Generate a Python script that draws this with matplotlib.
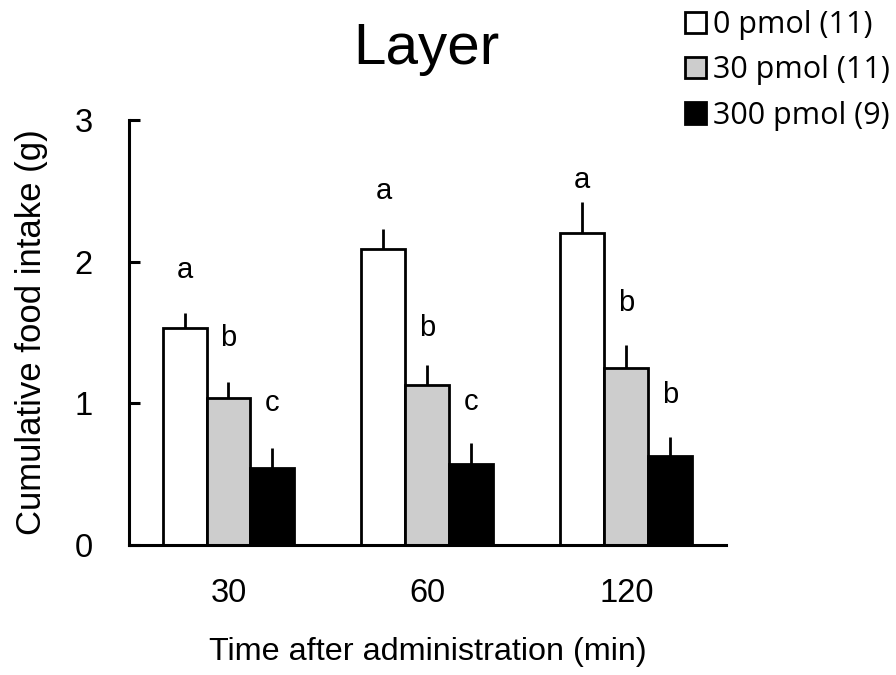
import matplotlib
matplotlib.use('Agg')
import matplotlib.pyplot as plt
import numpy as np
from matplotlib.patches import Patch

plt.rcParams['font.family'] = ['Liberation Sans', 'DejaVu Sans']

# 数据
times = ['30', '60', '120']
doses = ['0 pmol (11)', '30 pmol (11)', '300 pmol (9)']
colors = ['white', '#cdcdcd', 'black']
mean_0 = [1.53, 2.09, 2.20]
mean_30 = [1.04, 1.13, 1.25]
mean_300 = [0.54, 0.57, 0.63]
sem_0 = [0.11, 0.14, 0.22]
sem_30 = [0.11, 0.14, 0.16]
sem_300 = [0.14, 0.15, 0.13]
# 显著性字母及其高度
letters_0 = ['a', 'a', 'a']
letters_30 = ['b', 'b', 'b']
letters_300 = ['c', 'c', 'b']
letter_y_0 = [1.94, 2.50, 2.58]
letter_y_30 = [1.46, 1.53, 1.71]
letter_y_300 = [1.00, 1.01, 1.06]

means = [mean_0, mean_30, mean_300]
sems = [sem_0, sem_30, sem_300]
letters = [letters_0, letters_30, letters_300]
letter_ys = [letter_y_0, letter_y_30, letter_y_300]

fig = plt.figure(figsize=(8.96, 6.75), dpi=100)
ax = fig.add_axes([0.144, 0.193, 0.666, 0.629])

x = np.arange(len(times))
w = 0.221
for i in range(3):
    pos = x + (i - 1) * w
    ax.bar(pos, means[i], width=w, color=colors[i], edgecolor='black',
           linewidth=2.0, zorder=2)
    ax.errorbar(pos, means[i], yerr=[np.zeros(3), sems[i]], fmt='none',
                ecolor='black', elinewidth=2.0, capsize=0, zorder=1)
    for j in range(3):
        ax.text(pos[j], letter_ys[i][j], letters[i][j], ha='center',
                va='center', fontsize=21)

ax.set_xlim(-0.5, 2.5)
ax.set_ylim(0, 3)
ax.set_yticks([0, 1, 2, 3])
ax.set_xticks(x)
ax.set_xticklabels(times)
ax.tick_params(axis='y', direction='in', length=8, width=2.2, labelsize=23.5, pad=26)
ax.tick_params(axis='x', length=0, labelsize=23.5, pad=24)
for s in ['top', 'right']:
    ax.spines[s].set_visible(False)
for s in ['left', 'bottom']:
    ax.spines[s].set_linewidth(2.2)

ax.set_xlabel('Time after administration (min)', fontsize=23.3, labelpad=20)
ax.set_ylabel('Cumulative food intake (g)', fontsize=25, labelpad=19)
fig.text(0.476, 0.905, 'Layer', ha='center', va='baseline', fontsize=42)

handles = [Patch(facecolor=c, edgecolor='black', linewidth=2.0) for c in colors]
fig.legend(handles, doses, loc='upper left', bbox_to_anchor=(0.7645, 0.985),
           frameon=False, prop={'family': 'Open Sans', 'size': 22},
           borderpad=0, borderaxespad=0,
           handlelength=0.69, handleheight=0.69, handletextpad=0.23,
           labelspacing=0.5)

fig.savefig('out.png', dpi=100)
